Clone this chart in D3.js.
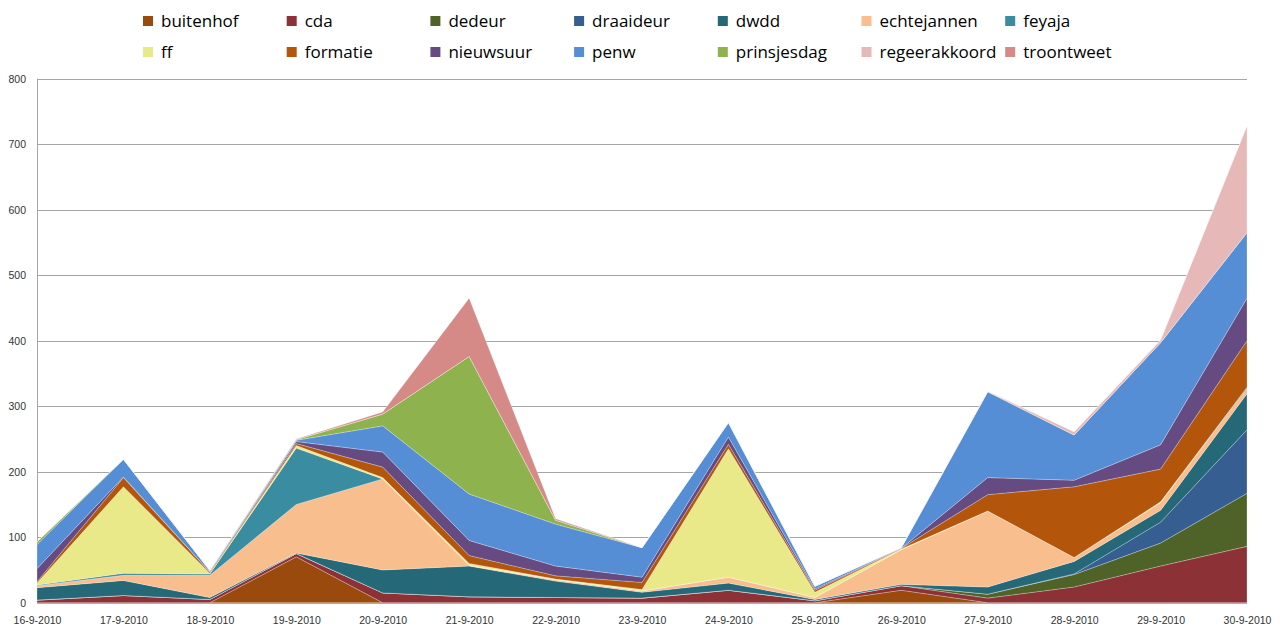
<!DOCTYPE html>
<html>
<head>
<meta charset="utf-8">
<script src="https://cdn.jsdelivr.net/npm/d3@7"></script>
<style>
  body { margin: 0; background: #fff; }
  svg { display: block; font-family: "Open Sans", "Liberation Sans", sans-serif; }
</style>
</head>
<body>
<div id="chart"></div>
<script>
// dagen en aantallen per hashtag
const dates = ['16-9-2010', '17-9-2010', '18-9-2010', '19-9-2010', '20-9-2010', '21-9-2010', '22-9-2010',
  '23-9-2010', '24-9-2010', '25-9-2010', '26-9-2010', '27-9-2010', '28-9-2010', '29-9-2010', '30-9-2010'];
const yTicks = [0, 100, 200, 300, 400, 500, 600, 700, 800];

const buitenhof     = [0, 0, 0, 70, 0, 0, 0, 0, 0, 0, 19, 0, 0, 0, 0];
const cda           = [4, 11, 5, 5, 15, 9, 8, 7, 19, 3, 7, 7, 24, 56, 86];
const dedeur        = [0, 0, 0, 0, 0, 0, 0, 0, 0, 0, 0, 6, 19, 35, 81];
const draaideur     = [0, 0, 0, 0, 0, 0, 0, 0, 0, 0, 0, 0, 1, 32, 97];
const dwdd          = [19, 23, 3, 1, 35, 47, 25, 9, 11, 2, 2, 11, 19, 18, 55];
const echtejannen   = [3, 8, 34, 74, 139, 1, 2, 2, 9, 3, 53, 116, 6, 12, 8];
const feyaja        = [1, 3, 2, 86, 0, 0, 0, 0, 0, 0, 0, 0, 0, 0, 2];
const ff            = [3, 132, 1, 4, 2, 3, 1, 2, 196, 8, 1, 0, 0, 1, 0];
const formatie      = [2, 14, 2, 3, 16, 12, 5, 11, 7, 3, 1, 25, 108, 50, 71];
const nieuwsuur     = [20, 1, 0, 3, 23, 23, 15, 8, 11, 2, 0, 26, 10, 37, 65];
const penw          = [37, 27, 2, 2, 40, 71, 64, 45, 22, 4, 1, 131, 69, 156, 100];
const prinsjesdag   = [4, 0, 0, 1, 18, 210, 6, 0, 0, 0, 0, 0, 0, 0, 0];
const regeerakkoord = [0, 0, 0, 0, 0, 0, 0, 0, 0, 0, 0, 1, 5, 4, 163];
const troontweet    = [0, 0, 0, 1, 3, 89, 2, 0, 0, 0, 0, 0, 0, 0, 0];

const series = [
  {key: 'buitenhof', values: buitenhof, color: '#9a4a0c'},
  {key: 'cda', values: cda, color: '#8c3136'},
  {key: 'dedeur', values: dedeur, color: '#4f6228'},
  {key: 'draaideur', values: draaideur, color: '#365e91'},
  {key: 'dwdd', values: dwdd, color: '#256878'},
  {key: 'echtejannen', values: echtejannen, color: '#f8be8e'},
  {key: 'feyaja', values: feyaja, color: '#3a8ca1'},
  {key: 'ff', values: ff, color: '#e9e98a'},
  {key: 'formatie', values: formatie, color: '#b3560b'},
  {key: 'nieuwsuur', values: nieuwsuur, color: '#654b82'},
  {key: 'penw', values: penw, color: '#558ed5'},
  {key: 'prinsjesdag', values: prinsjesdag, color: '#8db24e'},
  {key: 'regeerakkoord', values: regeerakkoord, color: '#e6b9b8'},
  {key: 'troontweet', values: troontweet, color: '#d58a88'}
];

const width = 1280, height = 628;
const plotLeft = 37, plotRight = 1247, plotTop = 78.7, plotBottom = 602.7;

const table = dates.map((d, i) => {
  const row = {date: d};
  series.forEach(s => { row[s.key] = s.values[i]; });
  return row;
});

const svg = d3.select('#chart').append('svg')
  .attr('width', width)
  .attr('height', height);

const x = d3.scalePoint().domain(dates).range([plotLeft, plotRight]);
const y = d3.scaleLinear().domain([0, 800]).range([plotBottom, plotTop]);

// rasterlijnen
svg.append('g')
  .selectAll('line')
  .data(yTicks)
  .join('line')
  .attr('x1', plotLeft).attr('x2', plotRight)
  .attr('y1', d => Math.round(y(d)) + 0.5).attr('y2', d => Math.round(y(d)) + 0.5)
  .attr('stroke', '#a6a6a6')
  .attr('stroke-width', 1);

svg.append('line')
  .attr('x1', plotLeft + 0.5).attr('x2', plotLeft + 0.5)
  .attr('y1', plotTop).attr('y2', plotBottom)
  .attr('stroke', '#a6a6a6');

const stack = d3.stack().keys(series.map(s => s.key));
const layers = stack(table);

const area = d3.area()
  .x(d => x(d.data.date))
  .y0(d => y(d[0]))
  .y1(d => y(d[1]));

svg.append('g')
  .selectAll('path')
  .data(layers)
  .join('path')
  .attr('d', area)
  .attr('fill', (d, i) => series[i].color)
  .attr('stroke', '#ffffff')
  .attr('stroke-opacity', 0.35)
  .attr('stroke-width', 0.7)
  .attr('stroke-linejoin', 'round');

// y-as
const yAxis = svg.append('g')
  .attr('transform', 'translate(' + (plotLeft - 11) + ',0)')
  .call(d3.axisLeft(y).tickValues(yTicks).tickSize(0).tickPadding(0));
yAxis.select('.domain').remove();
yAxis.selectAll('text')
  .attr('fill', '#333')
  .style('font-size', '10.5px');

// x-as
const xAxis = svg.append('g')
  .attr('transform', 'translate(0,' + plotBottom + ')')
  .call(d3.axisBottom(x).tickSize(0).tickPadding(14));
xAxis.select('.domain').remove();
xAxis.selectAll('text')
  .attr('fill', '#333')
  .style('font-size', '10.5px');

// legenda
const legend = svg.append('g');
series.forEach((s, i) => {
  const col = i % 7, row = Math.floor(i / 7);
  const g = legend.append('g')
    .attr('transform', 'translate(' + (143 + col * 143.7) + ',' + (16 + row * 31) + ')');
  g.append('rect')
    .attr('width', 10).attr('height', 10)
    .attr('fill', s.color);
  g.append('text')
    .attr('x', 18).attr('y', 5)
    .attr('dy', '0.35em')
    .style('font-size', '17px')
    .attr('fill', '#000')
    .text(s.key);
});
</script>
</body>
</html>
